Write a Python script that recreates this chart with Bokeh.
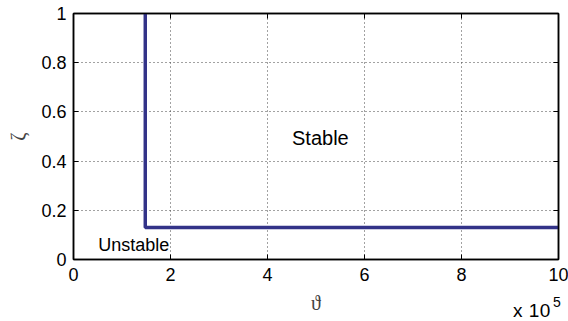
from bokeh.plotting import figure
from bokeh.models import Range1d, LinearAxis, FixedTicker, Label, Div
from bokeh.layouts import column
from bokeh.embed import file_html
from bokeh.resources import INLINE

# data
boundary_x = [1.48e5, 1.48e5, 1.0e6]
boundary_y = [1.0, 0.13, 0.13]
x_ticks = [0, 200000, 400000, 600000, 800000, 1000000]
x_tick_labels = ["0", "2", "4", "6", "8", "10"]
y_ticks = [0, 0.2, 0.4, 0.6, 0.8, 1]
y_tick_labels = ["0", "0.2", "0.4", "0.6", "0.8", "1"]
region_labels = ["Stable", "Unstable"]
region_x = [5.09e5, 0.51e5]
region_y = [0.494, 0.058]
exp_texts = ["x 10", "5"]

p = figure(width=568, height=321, output_backend="svg", toolbar_location=None,
           x_range=Range1d(0, 1e6), y_range=Range1d(0, 1),
           x_axis_location=None, y_axis_location=None,
           min_border_left=73, min_border_right=10, min_border_top=13, min_border_bottom=62)
p.outline_line_color = "black"
p.outline_line_width = 1.5
p.background_fill_color = "white"
p.border_fill_color = "white"

font = "Liberation Sans"

def mk_axis(ticks, labels, show_labels):
    ax = LinearAxis(ticker=FixedTicker(ticks=ticks))
    ax.major_tick_in = 5
    ax.major_tick_out = 0
    ax.minor_tick_in = 0
    ax.minor_tick_out = 0
    ax.axis_line_color = "black"
    ax.axis_line_width = 1.5
    ax.major_tick_line_color = "black"
    ax.major_tick_line_width = 1
    ax.major_label_text_font = font
    ax.major_label_text_font_size = "18px"
    ax.major_label_text_color = "black"
    if show_labels:
        ax.major_label_overrides = {t: l for t, l in zip(ticks, labels)}
    else:
        ax.major_label_overrides = {t: "" for t in ticks}
        ax.major_label_standoff = 0
    return ax

xb = mk_axis(x_ticks, x_tick_labels, True)
xb.major_label_standoff = 8
xb.axis_label = "\u03d1"
xb.axis_label_text_font = "Liberation Serif"
xb.axis_label_text_font_style = "normal"
xb.axis_label_text_font_size = "20px"
xb.axis_label_standoff = 8
p.add_layout(xb, "below")

yl = mk_axis(y_ticks, y_tick_labels, True)
yl.major_label_standoff = 7
yl.axis_label = "\u03b6"
yl.axis_label_text_font = "Liberation Serif"
yl.axis_label_text_font_style = "normal"
yl.axis_label_text_font_size = "20px"
yl.axis_label_standoff = 9
p.add_layout(yl, "left")

xt = mk_axis(x_ticks, x_tick_labels, False)
p.add_layout(xt, "above")
yr = mk_axis(y_ticks, y_tick_labels, False)
p.add_layout(yr, "right")

p.xgrid.ticker = FixedTicker(ticks=x_ticks)
p.ygrid.ticker = FixedTicker(ticks=y_ticks)
for g in (p.xgrid, p.ygrid):
    g.grid_line_color = "#444444"
    g.grid_line_dash = "1 3"
    g.grid_line_width = 1

p.line(boundary_x, boundary_y, line_color="#333388", line_width=3.5)

p.add_layout(Label(x=region_x[0], y=region_y[0], text=region_labels[0],
                   text_align="center", text_baseline="middle",
                   text_font=font, text_font_size="20px", text_color="black"))
p.add_layout(Label(x=region_x[1], y=region_y[1], text=region_labels[1],
                   text_align="left", text_baseline="middle",
                   text_font=font, text_font_size="18px", text_color="black"))

exp_div = Div(
    text=exp_texts[0] + '<span style="font-size:14px; position:relative; top:-10px; margin-left:2px">'
         + exp_texts[1] + "</span>",
    width=56, height=20, margin=(-20, 0, 0, 513),
    styles={"font-family": "Liberation Sans", "font-size": "19px", "line-height": "20px",
            "letter-spacing": "0.5px", "white-space": "nowrap", "color": "black"})

layout = column(p, exp_div, spacing=0)
open("out.html", "w").write(file_html(layout, INLINE))
